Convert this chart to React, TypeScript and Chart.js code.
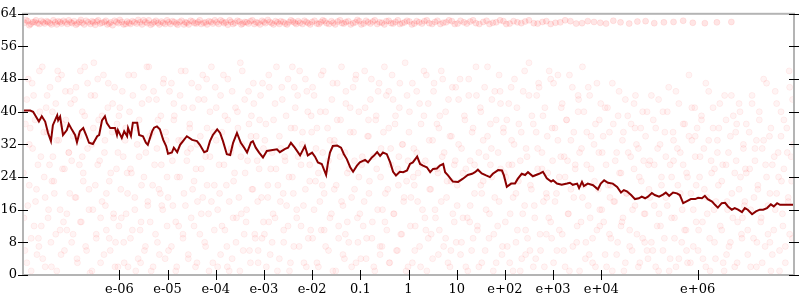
import React, { useEffect, useRef } from 'react';
import { Chart, registerables } from 'chart.js';
Chart.register(...registerables);

// x axis ticks (log scale, exponent form labels)
const xTickValues = [1e-6, 1e-5, 1e-4, 1e-3, 1e-2, 0.1, 1, 10, 100, 1e3, 1e4, 1e6];
const xTickLabels = ['e-06', 'e-05', 'e-04', 'e-03', 'e-02', '0.1', '1', '10', 'e+02', 'e+03', 'e+04', 'e+06'];
const xMin = 1e-8;
const xMax = 1e8;
const yMin = 0;
const yMax = 64;
const yStep = 4;
const yLabelEvery = 8;

// dark red line: log10(x) and y
const lineLogX = [
  -8.0, -7.85, -7.79, -7.71, -7.67, -7.61, -7.54, -7.48, -7.42, -7.38, -7.29, -7.27, -7.23, -7.17, -7.09, -7.05,
  -6.98, -6.92, -6.88, -6.82, -6.75, -6.69, -6.63, -6.55, -6.46, -6.42, -6.36, -6.3, -6.26, -6.19, -6.09, -6.05,
  -6.03, -5.95, -5.9, -5.84, -5.82, -5.76, -5.72, -5.63, -5.59, -5.51, -5.45, -5.41, -5.32, -5.28, -5.22, -5.16,
  -5.09, -5.03, -4.99, -4.91, -4.87, -4.8, -4.74, -4.68, -4.6, -4.49, -4.39, -4.33, -4.24, -4.18, -4.12, -4.06,
  -3.97, -3.91, -3.85, -3.77, -3.7, -3.64, -3.56, -3.48, -3.41, -3.35, -3.27, -3.23, -3.17, -3.1, -3.02, -2.94,
  -2.73, -2.67, -2.56, -2.5, -2.44, -2.36, -2.25, -2.15, -2.09, -2.0, -1.94, -1.88, -1.8, -1.71, -1.67, -1.63,
  -1.57, -1.48, -1.4, -1.34, -1.28, -1.21, -1.15, -1.07, -1.01, -0.9, -0.84, -0.76, -0.72, -0.65, -0.59, -0.53,
  -0.45, -0.38, -0.32, -0.26, -0.18, -0.11, -0.03, 0.03, 0.09, 0.18, 0.24, 0.3, 0.38, 0.45, 0.51, 0.59,
  0.65, 0.72, 0.76, 0.82, 0.92, 1.03, 1.13, 1.23, 1.32, 1.38, 1.44, 1.52, 1.61, 1.69, 1.75, 1.86,
  1.94, 1.98, 2.04, 2.13, 2.21, 2.27, 2.35, 2.42, 2.48, 2.58, 2.71, 2.79, 2.87, 2.96, 3.0, 3.08,
  3.18, 3.29, 3.35, 3.41, 3.5, 3.54, 3.6, 3.64, 3.72, 3.83, 3.93, 3.99, 4.06, 4.14, 4.24, 4.33,
  4.41, 4.47, 4.53, 4.62, 4.7, 4.78, 4.84, 4.91, 4.97, 5.05, 5.11, 5.2, 5.28, 5.34, 5.41, 5.49,
  5.57, 5.63, 5.7, 5.78, 5.86, 5.95, 6.01, 6.09, 6.15, 6.21, 6.3, 6.36, 6.42, 6.5, 6.57, 6.63,
  6.71, 6.77, 6.84, 6.92, 6.98, 7.04, 7.13, 7.21, 7.29, 7.36, 7.44, 7.52, 7.58, 7.65, 7.71, 8.0,
];
const lineY = [
  40.3, 40.3, 40.0, 38.4, 37.6, 38.9, 37.6, 34.8, 32.8, 36.7, 39.1, 37.9, 38.8, 34.3, 35.5, 37.0,
  35.5, 34.3, 32.5, 35.2, 36.0, 34.3, 32.4, 32.1, 34.0, 34.3, 37.9, 38.9, 37.2, 36.0, 36.0, 34.3,
  35.5, 33.6, 35.2, 34.0, 36.0, 34.1, 37.3, 37.3, 34.3, 34.0, 32.4, 31.9, 35.2, 36.1, 36.4, 35.7,
  33.1, 31.6, 29.7, 30.0, 31.2, 30.1, 31.9, 32.8, 34.0, 33.1, 32.8, 31.9, 30.1, 30.4, 32.8, 34.3,
  35.7, 34.8, 32.8, 29.6, 29.4, 32.4, 34.8, 32.4, 31.2, 30.0, 32.5, 32.8, 31.2, 30.0, 28.8, 30.4,
  30.8, 30.1, 30.9, 31.2, 32.4, 31.2, 29.3, 31.6, 29.3, 30.0, 29.0, 27.6, 27.2, 24.5, 27.6, 30.0,
  31.6, 31.7, 31.2, 29.6, 28.4, 26.4, 25.3, 26.8, 27.6, 28.2, 27.6, 28.8, 29.2, 30.1, 29.2, 30.0,
  29.6, 27.6, 25.3, 24.4, 25.3, 25.2, 25.6, 27.2, 27.6, 29.0, 27.2, 26.8, 26.4, 25.2, 26.0, 26.1,
  26.8, 27.2, 25.2, 24.4, 22.9, 22.8, 23.6, 24.5, 24.8, 25.2, 25.8, 24.9, 24.4, 24.0, 24.8, 25.7,
  25.6, 24.4, 21.6, 22.4, 22.4, 23.6, 24.8, 24.5, 25.2, 24.2, 24.8, 25.3, 23.7, 22.9, 23.2, 22.4,
  22.1, 22.4, 22.6, 22.1, 22.4, 21.3, 22.8, 21.8, 22.4, 22.0, 21.0, 22.4, 23.2, 22.6, 22.4, 21.6,
  20.2, 20.8, 20.5, 19.6, 18.6, 18.8, 19.2, 18.8, 19.2, 20.1, 19.6, 19.2, 19.7, 20.2, 19.4, 20.2,
  20.0, 19.6, 17.6, 18.1, 18.6, 18.6, 18.9, 18.8, 19.4, 18.6, 18.0, 17.2, 16.5, 17.6, 17.7, 16.8,
  16.0, 16.4, 16.0, 15.4, 16.4, 16.0, 14.9, 15.6, 16.0, 16.0, 16.4, 17.3, 16.8, 17.6, 17.2, 17.2,
];

// faint band of points near the top: [log10(x), y]
const bandPoints: number[][] = [
  [-7.97, 61.8], [-7.9, 62.2], [-7.84, 61.5], [-7.76, 62.0], [-7.7, 61.7], [-7.62, 62.3], [-7.55, 61.6], [-7.48, 62.0],
  [-7.41, 61.4], [-7.33, 61.9], [-7.27, 62.2], [-7.2, 61.6], [-7.12, 61.9], [-7.05, 62.4], [-6.98, 61.7], [-6.9, 61.3],
  [-6.83, 62.0], [-6.77, 61.8], [-6.69, 62.3], [-6.6, 61.5], [-6.54, 61.9], [-6.47, 62.1], [-6.4, 61.6], [-6.31, 62.0],
  [-6.25, 61.4], [-6.18, 61.9], [-6.1, 62.3], [-6.02, 61.7], [-5.95, 62.0], [-5.87, 61.5], [-5.8, 61.8], [-5.73, 62.2],
  [-5.64, 61.6], [-5.57, 61.9], [-5.5, 62.4], [-5.42, 61.7], [-5.35, 61.3], [-5.28, 62.0], [-5.2, 61.8], [-5.13, 62.1],
  [-5.05, 61.5], [-4.98, 61.9], [-4.9, 62.2], [-4.82, 61.6], [-4.75, 62.0], [-4.66, 61.4], [-4.6, 61.8], [-4.52, 62.3],
  [-4.44, 61.7], [-4.37, 62.0], [-4.3, 61.5], [-4.21, 61.9], [-4.14, 62.2], [-4.06, 61.6], [-3.98, 61.9], [-3.9, 62.4],
  [-3.83, 61.7], [-3.75, 61.3], [-3.68, 62.0], [-3.6, 61.8], [-3.51, 62.1], [-3.44, 61.6], [-3.36, 61.9], [-3.28, 62.2],
  [-3.2, 61.5], [-3.12, 61.8], [-3.04, 62.3], [-2.97, 61.7], [-2.88, 62.0], [-2.8, 61.4], [-2.72, 61.9], [-2.65, 62.2],
  [-2.56, 61.6], [-2.48, 61.9], [-2.4, 62.1], [-2.33, 61.5], [-2.25, 61.8], [-2.16, 62.3], [-2.08, 61.7], [-2.0, 62.0],
  [-1.9, 61.6], [-1.82, 61.9], [-1.74, 62.2], [-1.65, 61.5], [-1.56, 61.8], [-1.47, 62.1], [-1.38, 61.7], [-1.3, 62.0],
  [-1.2, 61.4], [-1.1, 61.9], [-1.02, 62.2], [-0.93, 61.6], [-0.84, 61.9], [-0.74, 62.1], [-0.65, 61.5], [-0.55, 61.8],
  [-0.46, 62.2], [-0.36, 61.7], [-0.27, 62.0], [-0.18, 61.5], [-0.08, 61.9], [0.02, 62.1], [0.12, 61.6], [0.22, 61.9],
  [0.33, 62.2], [0.43, 61.7], [0.55, 62.0], [0.66, 61.5], [0.78, 61.9], [0.9, 62.2], [1.02, 61.6], [1.15, 61.9],
  [1.28, 62.1], [1.4, 61.7], [1.55, 62.0], [1.68, 61.5], [1.82, 61.9], [1.97, 62.2], [2.1, 61.6], [2.26, 61.9],
  [2.42, 62.1], [2.6, 61.7], [2.78, 62.0], [2.95, 61.5], [3.15, 61.9], [3.36, 62.2], [3.6, 61.7], [3.85, 62.0],
  [4.1, 61.6], [4.4, 61.9], [4.75, 62.1], [5.1, 61.7], [5.5, 62.0], [5.9, 61.8], [6.4, 61.9],
];
const bandPoints2: number[][] = [
  [-7.94, 62.5], [-7.87, 61.2], [-7.8, 61.9], [-7.73, 62.4], [-7.66, 61.5], [-7.58, 61.9], [-7.51, 62.2], [-7.44, 61.7],
  [-7.37, 62.4], [-7.3, 61.4], [-7.23, 62.0], [-7.16, 62.3], [-7.08, 61.5], [-7.01, 61.9], [-6.94, 62.2], [-6.87, 61.6],
  [-6.8, 62.5], [-6.73, 61.4], [-6.65, 61.9], [-6.57, 62.2], [-6.5, 61.3], [-6.44, 62.4], [-6.36, 61.8], [-6.28, 62.3],
  [-6.21, 61.6], [-6.14, 61.2], [-6.06, 62.0], [-5.99, 62.5], [-5.91, 61.4], [-5.84, 62.1], [-5.77, 61.5], [-5.69, 61.9],
  [-5.61, 62.5], [-5.53, 61.4], [-5.46, 62.0], [-5.39, 62.4], [-5.31, 61.6], [-5.24, 62.3], [-5.17, 61.4], [-5.09, 61.8],
  [-5.01, 62.4], [-4.94, 61.5], [-4.86, 62.0], [-4.79, 61.3], [-4.71, 62.3], [-4.63, 61.9], [-4.56, 61.4], [-4.48, 62.1],
  [-4.4, 61.6], [-4.33, 62.4], [-4.25, 61.8], [-4.18, 61.4], [-4.1, 62.0], [-4.02, 62.4], [-3.94, 61.5], [-3.86, 62.1],
  [-3.79, 61.9], [-3.71, 62.4], [-3.64, 61.5], [-3.55, 62.3], [-3.47, 61.4], [-3.4, 62.0], [-3.32, 61.6], [-3.24, 62.4],
  [-3.16, 61.9], [-3.08, 61.4], [-3.0, 62.0], [-2.92, 62.5], [-2.84, 61.7], [-2.76, 62.2], [-2.68, 61.5], [-2.6, 62.0],
  [-2.52, 61.4], [-2.44, 62.4], [-2.36, 61.8], [-2.29, 62.2], [-2.2, 61.5], [-2.12, 62.0], [-2.04, 61.4], [-1.95, 62.3],
  [-1.86, 61.5], [-1.78, 62.4], [-1.7, 61.7], [-1.6, 62.2], [-1.52, 61.4], [-1.42, 62.4], [-1.34, 61.6], [-1.25, 62.2],
  [-1.15, 61.7], [-1.06, 62.5], [-0.98, 61.4], [-0.88, 62.3], [-0.79, 61.6], [-0.7, 62.4], [-0.6, 61.9], [-0.5, 61.4],
  [-0.41, 62.3], [-0.32, 61.6], [-0.22, 62.4], [-0.13, 61.7], [-0.03, 62.3], [0.07, 61.4], [0.17, 62.2], [0.28, 61.6],
  [0.38, 62.4], [0.49, 61.5], [0.6, 62.3], [0.72, 61.8], [0.84, 62.4], [0.96, 61.5], [1.08, 62.3], [1.21, 61.6],
  [1.34, 62.4], [1.47, 61.5], [1.62, 62.3], [1.75, 61.8], [1.9, 62.4], [2.03, 61.5], [2.18, 62.2], [2.34, 61.7],
  [2.5, 62.4], [2.68, 61.6], [2.86, 62.2], [3.05, 61.8], [3.25, 62.4], [3.48, 61.6], [3.72, 62.2], [3.98, 61.8],
  [4.25, 62.3], [4.58, 61.6], [4.92, 62.2], [5.3, 61.9], [5.7, 62.3], [6.15, 61.7], [6.7, 62.0],
];

// faint cloud of points: [log10(x), y]
const cloudPoints: number[][] = [
  [-7.98, 14], [-7.95, 37], [-7.92, 3], [-7.89, 48], [-7.87, 22], [-7.85, 36], [-7.83, 9], [-7.8, 31], [-7.78, 44], [-7.74, 18],
  [-7.71, 5], [-7.69, 27], [-7.67, 7], [-7.65, 40], [-7.62, 12], [-7.6, 51], [-7.56, 24], [-7.54, 2], [-7.52, 41], [-7.5, 35],
  [-7.47, 16], [-7.44, 46], [-7.42, 8], [-7.4, 23], [-7.38, 29], [-7.35, 20], [-7.32, 42], [-7.3, 1], [-7.28, 50], [-7.26, 33],
  [-7.23, 11], [-7.2, 49], [-7.18, 26], [-7.16, 13], [-7.14, 6], [-7.11, 38], [-7.09, 15], [-7.05, 30], [-7.02, 45],
  [-6.99, 28], [-6.96, 10], [-6.93, 43], [-6.9, 19], [-6.88, 4], [-6.84, 34], [-6.81, 50], [-6.79, 13], [-6.77, 29], [-6.75, 25],
  [-6.72, 39], [-6.7, 7], [-6.66, 47], [-6.63, 21], [-6.61, 0.5], [-6.57, 32], [-6.55, 16], [-6.53, 52], [-6.51, 44], [-6.48, 9],
  [-6.45, 27], [-6.43, 38], [-6.39, 3], [-6.36, 18], [-6.33, 49], [-6.31, 30], [-6.29, 17], [-6.27, 11], [-6.24, 41], [-6.21, 23],
  [-6.19, 6], [-6.15, 35], [-6.12, 14], [-6.1, 46], [-6.08, 8], [-6.06, 26], [-6.03, 2], [-6.01, 39],
  [-5.97, 21], [-5.94, 45], [-5.91, 8], [-5.88, 33], [-5.86, 15], [-5.84, 25], [-5.82, 2], [-5.79, 40], [-5.77, 26], [-5.73, 11],
  [-5.7, 49], [-5.68, 19], [-5.64, 36], [-5.61, 4], [-5.59, 29], [-5.56, 3], [-5.55, 13], [-5.53, 42], [-5.49, 24], [-5.46, 7],
  [-5.43, 51], [-5.41, 17], [-5.39, 43], [-5.37, 34], [-5.34, 1], [-5.31, 22], [-5.29, 45], [-5.25, 10], [-5.22, 31], [-5.2, 38],
  [-5.17, 5], [-5.15, 20], [-5.13, 27], [-5.1, 16], [-5.08, 48], [-5.04, 35], [-5.01, 12],
  [-4.98, 6], [-4.95, 30], [-4.92, 47], [-4.89, 17], [-4.87, 42], [-4.86, 39], [-4.83, 1], [-4.8, 24], [-4.77, 12], [-4.74, 44],
  [-4.71, 33], [-4.68, 9], [-4.66, 20], [-4.63, 50], [-4.6, 28], [-4.57, 4], [-4.54, 37], [-4.52, 31], [-4.51, 14], [-4.48, 41],
  [-4.45, 23], [-4.42, 2], [-4.39, 32], [-4.38, 18], [-4.36, 46], [-4.33, 10], [-4.3, 26], [-4.27, 19], [-4.24, 43], [-4.21, 7],
  [-4.19, 48], [-4.18, 36], [-4.15, 15], [-4.12, 29], [-4.09, 51], [-4.06, 3], [-4.03, 22],
  [-3.99, 41], [-3.96, 16], [-3.93, 27], [-3.9, 5], [-3.87, 35], [-3.84, 49], [-3.81, 11], [-3.78, 22], [-3.76, 2], [-3.75, 38],
  [-3.72, 1], [-3.69, 30], [-3.66, 45], [-3.64, 14], [-3.61, 25], [-3.58, 8], [-3.55, 40], [-3.52, 19], [-3.49, 52], [-3.47, 15],
  [-3.46, 32], [-3.43, 6], [-3.4, 43], [-3.37, 13], [-3.34, 28], [-3.31, 37], [-3.28, 3], [-3.26, 39], [-3.25, 21], [-3.22, 47],
  [-3.19, 10], [-3.16, 34], [-3.13, 18], [-3.12, 6], [-3.1, 26], [-3.07, 44], [-3.04, 9], [-3.01, 31],
  [-2.98, 33], [-2.95, 2], [-2.92, 19], [-2.9, 13], [-2.89, 46], [-2.86, 26], [-2.83, 8], [-2.8, 38], [-2.77, 14], [-2.74, 51],
  [-2.71, 22], [-2.68, 4], [-2.65, 31], [-2.62, 43], [-2.6, 20], [-2.59, 11], [-2.56, 28], [-2.53, 17], [-2.5, 48], [-2.47, 1],
  [-2.44, 36], [-2.41, 24], [-2.38, 7], [-2.37, 46], [-2.35, 41], [-2.32, 16], [-2.29, 29], [-2.26, 50], [-2.23, 12], [-2.2, 35],
  [-2.17, 3], [-2.15, 30], [-2.14, 21], [-2.11, 45], [-2.08, 9], [-2.05, 27], [-2.02, 39],
  [-1.99, 9], [-1.96, 44], [-1.93, 23], [-1.9, 36], [-1.87, 2], [-1.84, 18], [-1.81, 49], [-1.79, 22], [-1.78, 30], [-1.75, 11],
  [-1.72, 40], [-1.69, 26], [-1.66, 6], [-1.63, 33], [-1.6, 15], [-1.57, 47], [-1.55, 32], [-1.54, 21], [-1.51, 1], [-1.48, 38],
  [-1.45, 12], [-1.42, 29], [-1.39, 51], [-1.36, 17], [-1.33, 4], [-1.31, 10], [-1.3, 42], [-1.27, 25], [-1.24, 8], [-1.21, 35],
  [-1.18, 19], [-1.15, 46], [-1.12, 28], [-1.1, 48], [-1.09, 3], [-1.06, 14], [-1.03, 40],
  [-0.97, 27], [-0.94, 12], [-0.91, 50], [-0.88, 4], [-0.85, 34], [-0.83, 38], [-0.82, 20], [-0.79, 43], [-0.76, 9], [-0.73, 29],
  [-0.7, 1], [-0.67, 39], [-0.64, 16], [-0.61, 47], [-0.59, 5], [-0.58, 24], [-0.55, 7], [-0.52, 35], [-0.49, 13], [-0.46, 44],
  [-0.43, 21], [-0.41, 45], [-0.4, 3], [-0.37, 31], [-0.34, 49], [-0.31, 15], [-0.28, 37], [-0.25, 6], [-0.22, 26], [-0.2, 29],
  [-0.19, 41], [-0.16, 10], [-0.13, 32], [-0.1, 18], [-0.07, 52], [-0.04, 23], [-0.01, 2],
  [0.02, 40], [0.05, 19], [0.08, 3], [0.11, 31], [0.12, 22], [0.14, 12], [0.17, 45], [0.2, 25], [0.23, 7], [0.26, 37],
  [0.29, 16], [0.32, 50], [0.35, 28], [0.36, 11], [0.38, 1], [0.41, 42], [0.44, 21], [0.47, 10], [0.5, 33], [0.53, 47],
  [0.56, 14], [0.59, 26], [0.62, 5], [0.63, 36], [0.65, 39], [0.68, 18], [0.71, 48], [0.74, 30], [0.77, 9], [0.8, 23],
  [0.83, 43], [0.86, 2], [0.88, 6], [0.89, 34], [0.92, 15], [0.95, 27], [0.98, 46],
  [1.01, 17], [1.04, 32], [1.07, 48], [1.1, 8], [1.13, 25], [1.16, 39], [1.19, 2], [1.22, 14], [1.25, 44], [1.27, 13],
  [1.28, 28], [1.31, 6], [1.34, 36], [1.37, 20], [1.4, 51], [1.43, 11], [1.46, 30], [1.49, 41], [1.5, 22], [1.52, 3],
  [1.55, 23], [1.58, 46], [1.61, 16], [1.64, 34], [1.67, 9], [1.7, 27], [1.72, 31], [1.73, 43], [1.76, 1], [1.79, 19],
  [1.82, 38], [1.85, 12], [1.88, 49], [1.9, 45], [1.91, 26], [1.94, 5], [1.97, 35],
  [2.02, 24], [2.05, 7], [2.08, 42], [2.11, 15], [2.14, 33], [2.15, 27], [2.17, 1], [2.2, 48], [2.23, 20], [2.26, 11],
  [2.29, 37], [2.32, 28], [2.35, 4], [2.38, 45], [2.41, 17], [2.43, 5], [2.44, 31], [2.47, 9], [2.5, 52], [2.53, 22],
  [2.56, 39], [2.59, 2], [2.62, 14], [2.65, 35], [2.66, 44], [2.68, 26], [2.71, 46], [2.74, 6], [2.77, 30], [2.8, 18],
  [2.83, 41], [2.86, 10], [2.87, 19], [2.89, 25], [2.92, 50], [2.95, 13], [2.98, 36],
  [3.01, 3], [3.04, 36], [3.07, 20], [3.1, 49], [3.13, 11], [3.16, 29], [3.19, 42], [3.22, 6], [3.25, 24], [3.28, 38],
  [3.3, 28], [3.31, 15], [3.34, 1], [3.37, 33], [3.4, 46], [3.43, 19], [3.46, 27], [3.49, 8], [3.52, 40], [3.53, 43],
  [3.55, 30], [3.58, 13], [3.61, 51], [3.64, 22], [3.67, 4], [3.7, 35], [3.73, 17], [3.75, 5], [3.76, 44], [3.79, 26],
  [3.82, 9], [3.85, 32], [3.88, 2], [3.91, 47], [3.94, 21], [3.96, 38], [3.97, 12],
  [4.02, 30], [4.05, 13], [4.08, 41], [4.11, 2], [4.14, 22], [4.17, 35], [4.18, 19], [4.2, 9], [4.23, 47], [4.26, 18],
  [4.29, 28], [4.32, 5], [4.35, 39], [4.38, 25], [4.41, 12], [4.44, 33], [4.45, 14], [4.47, 1], [4.5, 43], [4.53, 20],
  [4.56, 30], [4.59, 7], [4.62, 37], [4.65, 16], [4.68, 26], [4.7, 36], [4.71, 44], [4.74, 10], [4.77, 31], [4.8, 3],
  [4.83, 23], [4.86, 40], [4.89, 15], [4.9, 8], [4.92, 34], [4.95, 6], [4.98, 27],
  [5.01, 19], [5.04, 44], [5.07, 6], [5.1, 27], [5.13, 36], [5.16, 12], [5.19, 1], [5.2, 15], [5.22, 32], [5.25, 22],
  [5.28, 40], [5.31, 9], [5.34, 29], [5.37, 17], [5.4, 46], [5.43, 4], [5.46, 24], [5.49, 35], [5.5, 28], [5.52, 14],
  [5.55, 2], [5.58, 31], [5.61, 42], [5.64, 20], [5.67, 8], [5.7, 27], [5.73, 37], [5.76, 11], [5.77, 6], [5.79, 24],
  [5.82, 49], [5.85, 3], [5.88, 33], [5.91, 16], [5.94, 41], [5.95, 34], [5.97, 22],
  [6.02, 11], [6.05, 29], [6.08, 38], [6.11, 4], [6.14, 21], [6.17, 47], [6.2, 15], [6.23, 33], [6.26, 1], [6.29, 25],
  [6.32, 41], [6.35, 8], [6.35, 26], [6.38, 18], [6.41, 30], [6.44, 36], [6.47, 12], [6.5, 23], [6.53, 3], [6.56, 44],
  [6.59, 27], [6.6, 5], [6.62, 16], [6.65, 7], [6.68, 34], [6.71, 20], [6.74, 39], [6.77, 2], [6.8, 28], [6.81, 37],
  [6.83, 13], [6.86, 42], [6.89, 24], [6.92, 9], [6.93, 14], [6.95, 31], [6.98, 18],
  [7.01, 25], [7.04, 5], [7.07, 35], [7.1, 16], [7.13, 42], [7.16, 9], [7.19, 28], [7.22, 2], [7.22, 33], [7.25, 21],
  [7.28, 38], [7.31, 13], [7.34, 31], [7.37, 48], [7.4, 7], [7.43, 24], [7.46, 17], [7.49, 34], [7.5, 8], [7.52, 1],
  [7.55, 27], [7.58, 11], [7.61, 45], [7.64, 20], [7.67, 30], [7.7, 6], [7.73, 40], [7.74, 23], [7.76, 15], [7.79, 26],
  [7.82, 3], [7.85, 36], [7.88, 19], [7.9, 50], [7.91, 10], [7.94, 29], [7.97, 43],
];

// second batch of cloud points: [log10(x), y]
const cloudPoints2: number[][] = [
  [-7.99, 25], [-7.96, 6], [-7.92, 43], [-7.9, 17], [-7.87, 32], [-7.83, 1], [-7.81, 47], [-7.77, 12], [-7.75, 38], [-7.72, 21],
  [-7.68, 9], [-7.66, 50], [-7.63, 29], [-7.59, 4], [-7.57, 35], [-7.54, 19], [-7.5, 44], [-7.48, 14], [-7.45, 27], [-7.41, 2],
  [-7.39, 40], [-7.36, 23], [-7.32, 10], [-7.3, 33], [-7.27, 48], [-7.23, 16], [-7.21, 5], [-7.18, 37], [-7.14, 26], [-7.12, 45],
  [-7.09, 11], [-7.05, 30], [-7.03, 20], [-7.01, 42],
  [-6.99, 8], [-6.96, 34], [-6.92, 19], [-6.9, 46], [-6.87, 3], [-6.83, 27], [-6.81, 13], [-6.77, 40], [-6.75, 23], [-6.72, 51],
  [-6.68, 6], [-6.66, 31], [-6.63, 16], [-6.59, 44], [-6.57, 1], [-6.54, 36], [-6.5, 22], [-6.48, 10], [-6.45, 48], [-6.41, 28],
  [-6.39, 14], [-6.36, 39], [-6.32, 5], [-6.3, 33], [-6.27, 20], [-6.23, 47], [-6.21, 9], [-6.18, 25], [-6.14, 42], [-6.12, 15],
  [-6.09, 2], [-6.05, 37], [-6.03, 30], [-6.01, 12],
  [-5.99, 41], [-5.96, 14], [-5.92, 29], [-5.9, 3], [-5.87, 36], [-5.83, 20], [-5.81, 49], [-5.77, 9], [-5.75, 25], [-5.72, 44],
  [-5.68, 16], [-5.66, 1], [-5.63, 32], [-5.59, 38], [-5.57, 11], [-5.54, 22], [-5.5, 46], [-5.48, 6], [-5.45, 30], [-5.41, 18],
  [-5.39, 51], [-5.36, 13], [-5.32, 35], [-5.3, 2], [-5.27, 27], [-5.23, 43], [-5.21, 8], [-5.18, 21], [-5.14, 39], [-5.12, 17],
  [-5.09, 47], [-5.05, 4], [-5.03, 33], [-5.01, 24],
  [-4.99, 19], [-4.96, 45], [-4.92, 7], [-4.9, 28], [-4.87, 38], [-4.83, 13], [-4.81, 2], [-4.77, 33], [-4.75, 24], [-4.72, 50],
  [-4.68, 10], [-4.66, 41], [-4.63, 17], [-4.59, 30], [-4.57, 5], [-4.54, 36], [-4.5, 47], [-4.48, 21], [-4.45, 12], [-4.41, 26],
  [-4.39, 3], [-4.36, 43], [-4.32, 34], [-4.3, 15], [-4.27, 49], [-4.23, 8], [-4.21, 29], [-4.18, 22], [-4.14, 1], [-4.12, 40],
  [-4.09, 18], [-4.05, 35], [-4.03, 11], [-4.01, 46],
  [-3.99, 33], [-3.96, 2], [-3.92, 20], [-3.9, 44], [-3.87, 12], [-3.83, 27], [-3.81, 39], [-3.77, 7], [-3.75, 48], [-3.72, 18],
  [-3.68, 31], [-3.66, 4], [-3.63, 23], [-3.59, 41], [-3.57, 14], [-3.54, 36], [-3.5, 1], [-3.48, 29], [-3.45, 50], [-3.41, 10],
  [-3.39, 25], [-3.36, 16], [-3.32, 45], [-3.3, 6], [-3.27, 34], [-3.23, 21], [-3.21, 42], [-3.18, 9], [-3.14, 28], [-3.12, 3],
  [-3.09, 38], [-3.05, 19], [-3.03, 47], [-3.01, 13],
  [-2.99, 10], [-2.96, 37], [-2.92, 22], [-2.9, 49], [-2.87, 5], [-2.83, 30], [-2.81, 15], [-2.77, 42], [-2.75, 26], [-2.72, 1],
  [-2.68, 34], [-2.66, 18], [-2.63, 46], [-2.59, 8], [-2.57, 29], [-2.54, 39], [-2.5, 12], [-2.48, 24], [-2.45, 3], [-2.41, 51],
  [-2.39, 20], [-2.36, 36], [-2.32, 14], [-2.3, 44], [-2.27, 7], [-2.23, 27], [-2.21, 32], [-2.18, 17], [-2.14, 48], [-2.12, 2],
  [-2.09, 40], [-2.05, 23], [-2.03, 11], [-2.01, 35],
  [-1.99, 46], [-1.96, 16], [-1.92, 31], [-1.9, 3], [-1.87, 25], [-1.83, 40], [-1.81, 11], [-1.77, 50], [-1.75, 20], [-1.72, 7],
  [-1.68, 36], [-1.66, 28], [-1.63, 14], [-1.59, 43], [-1.57, 1], [-1.54, 33], [-1.5, 22], [-1.48, 47], [-1.45, 9], [-1.41, 38],
  [-1.39, 18], [-1.36, 5], [-1.32, 30], [-1.3, 45], [-1.27, 13], [-1.23, 26], [-1.21, 41], [-1.18, 2], [-1.14, 35], [-1.12, 21],
  [-1.09, 49], [-1.05, 8], [-1.03, 24], [-1.01, 15],
  [-0.99, 4], [-0.96, 29], [-0.92, 18], [-0.9, 41], [-0.87, 9], [-0.83, 34], [-0.81, 23], [-0.77, 48], [-0.75, 13], [-0.72, 2],
  [-0.68, 38], [-0.66, 26], [-0.63, 45], [-0.59, 7], [-0.57, 31], [-0.54, 16], [-0.5, 51], [-0.48, 20], [-0.45, 11], [-0.41, 36],
  [-0.39, 3], [-0.36, 27], [-0.32, 43], [-0.3, 15], [-0.27, 39], [-0.23, 6], [-0.21, 22], [-0.18, 47], [-0.14, 10], [-0.12, 32],
  [-0.09, 19], [-0.05, 1], [-0.03, 44], [-0.01, 28],
  [0.01, 35], [0.04, 12], [0.08, 47], [0.1, 24], [0.13, 6], [0.17, 30], [0.19, 18], [0.23, 42], [0.25, 2], [0.28, 27],
  [0.32, 39], [0.34, 14], [0.37, 49], [0.41, 9], [0.43, 33], [0.46, 21], [0.5, 4], [0.52, 45], [0.55, 16], [0.59, 37],
  [0.61, 25], [0.64, 11], [0.68, 50], [0.7, 29], [0.73, 7], [0.77, 40], [0.79, 19], [0.82, 3], [0.86, 34], [0.88, 23],
  [0.91, 46], [0.95, 13], [0.97, 28], [0.99, 8],
  [1.01, 22], [1.04, 43], [1.08, 5], [1.1, 31], [1.13, 14], [1.17, 38], [1.19, 26], [1.23, 1], [1.25, 48], [1.28, 17],
  [1.32, 35], [1.34, 9], [1.37, 27], [1.41, 44], [1.43, 12], [1.46, 2], [1.5, 40], [1.52, 20], [1.55, 33], [1.59, 6],
  [1.61, 29], [1.64, 51], [1.68, 15], [1.7, 37], [1.73, 24], [1.77, 10], [1.79, 45], [1.82, 3], [1.86, 30], [1.88, 18],
  [1.91, 42], [1.95, 7], [1.97, 36], [1.99, 25],
  [2.01, 13], [2.04, 38], [2.08, 27], [2.1, 3], [2.13, 46], [2.17, 19], [2.19, 32], [2.23, 8], [2.25, 41], [2.28, 23],
  [2.32, 1], [2.34, 35], [2.37, 15], [2.41, 50], [2.43, 11], [2.46, 29], [2.5, 44], [2.52, 6], [2.55, 21], [2.59, 37],
  [2.61, 17], [2.64, 4], [2.68, 31], [2.7, 47], [2.73, 10], [2.77, 26], [2.79, 39], [2.82, 2], [2.86, 20], [2.88, 34],
  [2.91, 14], [2.95, 48], [2.97, 9], [2.99, 28],
  [3.01, 47], [3.04, 18], [3.08, 6], [3.1, 33], [3.13, 24], [3.17, 41], [3.19, 10], [3.23, 29], [3.25, 2], [3.28, 38],
  [3.32, 15], [3.34, 49], [3.37, 21], [3.41, 7], [3.43, 35], [3.46, 26], [3.5, 12], [3.52, 44], [3.55, 1], [3.59, 31],
  [3.61, 19], [3.64, 40], [3.68, 8], [3.7, 27], [3.73, 46], [3.77, 14], [3.79, 34], [3.82, 3], [3.86, 23], [3.88, 37],
  [3.91, 11], [3.95, 30], [3.97, 16], [3.99, 42],
  [4.01, 16], [4.04, 34], [4.08, 5], [4.1, 27], [4.13, 41], [4.17, 10], [4.19, 22], [4.23, 1], [4.25, 37], [4.28, 18],
  [4.32, 30], [4.34, 8], [4.37, 45], [4.41, 25], [4.43, 13], [4.46, 35], [4.5, 3], [4.52, 20], [4.55, 39], [4.59, 11],
  [4.61, 29], [4.64, 6], [4.68, 42], [4.7, 17], [4.73, 32], [4.77, 2], [4.79, 24], [4.82, 36], [4.86, 9], [4.88, 28],
  [4.91, 15], [4.95, 40], [4.97, 4], [4.99, 21],
  [5.01, 28], [5.04, 8], [5.08, 38], [5.1, 17], [5.13, 2], [5.17, 31], [5.19, 43], [5.23, 12], [5.25, 24], [5.28, 6],
  [5.32, 35], [5.34, 19], [5.37, 40], [5.41, 1], [5.43, 27], [5.46, 14], [5.5, 33], [5.52, 9], [5.55, 45], [5.59, 22],
  [5.61, 4], [5.64, 30], [5.68, 16], [5.7, 37], [5.73, 11], [5.77, 25], [5.79, 3], [5.82, 34], [5.86, 20], [5.88, 41],
  [5.91, 7], [5.95, 29], [5.97, 13], [5.99, 36],
  [6.01, 6], [6.04, 24], [6.08, 39], [6.1, 13], [6.13, 31], [6.17, 2], [6.19, 19], [6.23, 45], [6.25, 9], [6.28, 28],
  [6.32, 36], [6.34, 16], [6.37, 4], [6.41, 33], [6.43, 22], [6.46, 42], [6.5, 11], [6.52, 27], [6.55, 1], [6.59, 38],
  [6.61, 18], [6.64, 30], [6.68, 8], [6.7, 44], [6.73, 14], [6.77, 25], [6.79, 35], [6.82, 3], [6.86, 21], [6.88, 40],
  [6.91, 10], [6.95, 32], [6.97, 17], [6.99, 26],
  [7.01, 37], [7.04, 11], [7.08, 26], [7.1, 2], [7.13, 44], [7.17, 19], [7.19, 31], [7.23, 8], [7.25, 22], [7.28, 40],
  [7.32, 14], [7.34, 3], [7.37, 33], [7.41, 27], [7.43, 47], [7.46, 10], [7.5, 20], [7.52, 36], [7.55, 5], [7.59, 29],
  [7.61, 16], [7.64, 42], [7.68, 24], [7.7, 1], [7.73, 34], [7.77, 12], [7.79, 38], [7.82, 7], [7.86, 30], [7.88, 18],
  [7.91, 46], [7.95, 23], [7.97, 9], [7.99, 32],
];

const toXY = (p: number[]) => ({ x: Math.pow(10, p[0]), y: p[1] });

const framePlugin = {
  id: 'frameTicks',
  afterDatasetsDraw(chart: any) {
    const { ctx, chartArea, scales } = chart;
    const { left, right, top, bottom } = chartArea;
    const xs = scales.x;
    const ys = scales.y;
    ctx.save();
    ctx.strokeStyle = '#b4b4b4';
    ctx.lineWidth = 2;
    ctx.strokeRect(left, top, right - left, bottom - top);
    ctx.strokeStyle = '#000000';
    ctx.lineWidth = 1;
    ctx.beginPath();
    ys.ticks.forEach((t: any) => {
      const py = Math.round(ys.getPixelForValue(t.value)) + 0.5;
      const major = t.value % yLabelEvery === 0;
      const len = major ? 5 : 3;
      ctx.moveTo(left - len, py);
      ctx.lineTo(left + len, py);
      ctx.moveTo(right - len, py);
      ctx.lineTo(right + len, py);
    });
    xs.ticks.forEach((t: any) => {
      const px = Math.round(xs.getPixelForValue(t.value)) + 0.5;
      ctx.moveTo(px, bottom - 5);
      ctx.lineTo(px, bottom + 5);
    });
    ctx.stroke();
    ctx.restore();
  },
};

const cloudStyle = {
  type: 'scatter',
  pointRadius: 3,
  backgroundColor: 'rgba(255,0,0,0.045)',
  borderColor: 'rgba(255,0,0,0.06)',
  borderWidth: 1,
};
const bandStyle = {
  type: 'scatter',
  pointRadius: 3,
  backgroundColor: 'rgba(255,0,0,0.1)',
  borderColor: 'rgba(255,0,0,0.08)',
  borderWidth: 1,
};

export default function App() {
  const canvasRef = useRef<HTMLCanvasElement | null>(null);

  useEffect(() => {
    if (!canvasRef.current) return;
    const font = { family: '"DejaVu Serif", serif', size: 13 };
    const chart = new Chart(canvasRef.current, {
      type: 'scatter',
      data: {
        datasets: [
          {
            type: 'line',
            data: lineLogX.map((lx, i) => ({ x: Math.pow(10, lx), y: lineY[i] })),
            borderColor: '#8b0000',
            borderWidth: 2,
            pointRadius: 0,
            tension: 0,
            fill: false,
          } as any,
          { ...bandStyle, data: bandPoints.map(toXY) } as any,
          { ...bandStyle, data: bandPoints2.map(toXY) } as any,
          { ...cloudStyle, data: cloudPoints.map(toXY) } as any,
          { ...cloudStyle, data: cloudPoints2.map(toXY) } as any,
        ],
      },
      options: {
        animation: false,
        responsive: false,
        devicePixelRatio: 1,
        layout: { padding: { top: 8, right: 6, left: 0, bottom: 0 } },
        plugins: { legend: { display: false }, tooltip: { enabled: false } },
        events: [],
        scales: {
          x: {
            type: 'logarithmic',
            min: xMin,
            max: xMax,
            grid: { display: false, drawTicks: false },
            border: { display: false },
            afterBuildTicks: (s: any) => {
              s.ticks = xTickValues.map((v) => ({ value: v }));
            },
            afterFit: (s: any) => {
              s.height = 25;
            },
            ticks: {
              autoSkip: false,
              maxRotation: 0,
              padding: 7,
              color: '#000',
              font,
              callback: (_v: any, i: number) => xTickLabels[i],
            },
          },
          y: {
            type: 'linear',
            min: yMin,
            max: yMax,
            grid: { display: false, drawTicks: false },
            border: { display: false },
            afterFit: (s: any) => {
              s.width = 23;
            },
            ticks: {
              stepSize: yStep,
              padding: 6,
              color: '#000',
              font,
              callback: (v: any) => (Number(v) % yLabelEvery === 0 ? String(v) : ''),
            },
          },
        },
      } as any,
      plugins: [framePlugin],
    });
    return () => chart.destroy();
  }, []);

  return (
    <div style={{ position: 'absolute', left: 0, top: 0, width: 800, height: 300, background: '#fff' }}>
      <canvas ref={canvasRef} width={800} height={300} />
    </div>
  );
}
